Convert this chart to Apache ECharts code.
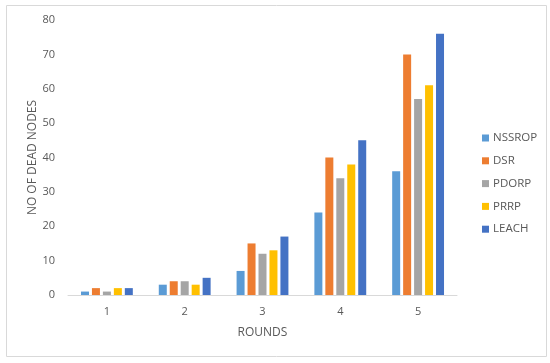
<!DOCTYPE html>
<html>
<head>
<meta charset="utf-8">
<script src="https://cdn.jsdelivr.net/npm/echarts@6/dist/echarts.min.js"></script>
<style>html,body{margin:0;padding:0;background:#fff}#c{width:550px;height:363px}</style>
</head>
<body>
<div id="c"></div>
<script>
var categories = ['1', '2', '3', '4', '5'];
var seriesNames = ['NSSROP', 'DSR', 'PDORP', 'PRRP', 'LEACH'];
var NSSROP = [1, 3, 7, 24, 36];
var DSR = [2, 4, 15, 40, 70];
var PDORP = [1, 4, 12, 34, 57];
var PRRP = [2, 3, 13, 38, 61];
var LEACH = [2, 5, 17, 45, 76];
var yTicks = [0, 10, 20, 30, 40, 50, 60, 70, 80];
var colors = ['#5B9BD5', '#ED7D31', '#A5A5A5', '#FFC000', '#4472C4'];

var dataSets = [NSSROP, DSR, PDORP, PRRP, LEACH];
var font = '"Open Sans", Lato, sans-serif';
var chart = echarts.init(document.getElementById('c'), null, {renderer: 'canvas'});
chart.setOption({
  animation: false,
  color: colors,
  textStyle: {fontFamily: font, color: '#595959'},
  graphic: [{
    type: 'rect', shape: {x: 6.5, y: 5.5, width: 540, height: 351},
    style: {fill: 'none', stroke: '#d9d9d9', lineWidth: 1}, silent: true
  }],
  grid: {left: 68, right: 93, top: 20, bottom: 68, containLabel: false},
  legend: {
    orient: 'vertical', left: 477, top: 127,
    itemWidth: 7, itemHeight: 7, itemGap: 10.8,
    icon: 'rect',
    textStyle: {fontFamily: font, fontSize: 11.5, color: '#595959', padding: [0, 0, 0, -1]},
    data: seriesNames
  },
  xAxis: {
    type: 'category', data: categories,
    name: 'ROUNDS', nameLocation: 'middle', nameGap: 32, nameMoveOverlap: false,
    nameTextStyle: {fontFamily: font, fontSize: 12, color: '#595959'},
    axisLine: {lineStyle: {color: '#d9d9d9'}},
    axisTick: {show: false},
    axisLabel: {fontFamily: font, fontSize: 11, color: '#595959', margin: 11}
  },
  yAxis: {
    type: 'value', min: yTicks[0], max: yTicks[yTicks.length - 1], interval: 10,
    name: 'NO OF DEAD NODES', nameLocation: 'middle', nameGap: 29, nameRotate: 90,
    nameMoveOverlap: false,
    nameTextStyle: {fontFamily: font, fontSize: 12, color: '#595959'},
    axisLine: {show: false}, axisTick: {show: false},
    splitLine: {show: false},
    axisLabel: {fontFamily: font, fontSize: 11, color: '#595959', margin: 13}
  },
  series: seriesNames.map(function (n, i) {
    return {name: n, type: 'bar', data: dataSets[i], barWidth: 8, barGap: '37%'};
  })
});
</script>
</body>
</html>
